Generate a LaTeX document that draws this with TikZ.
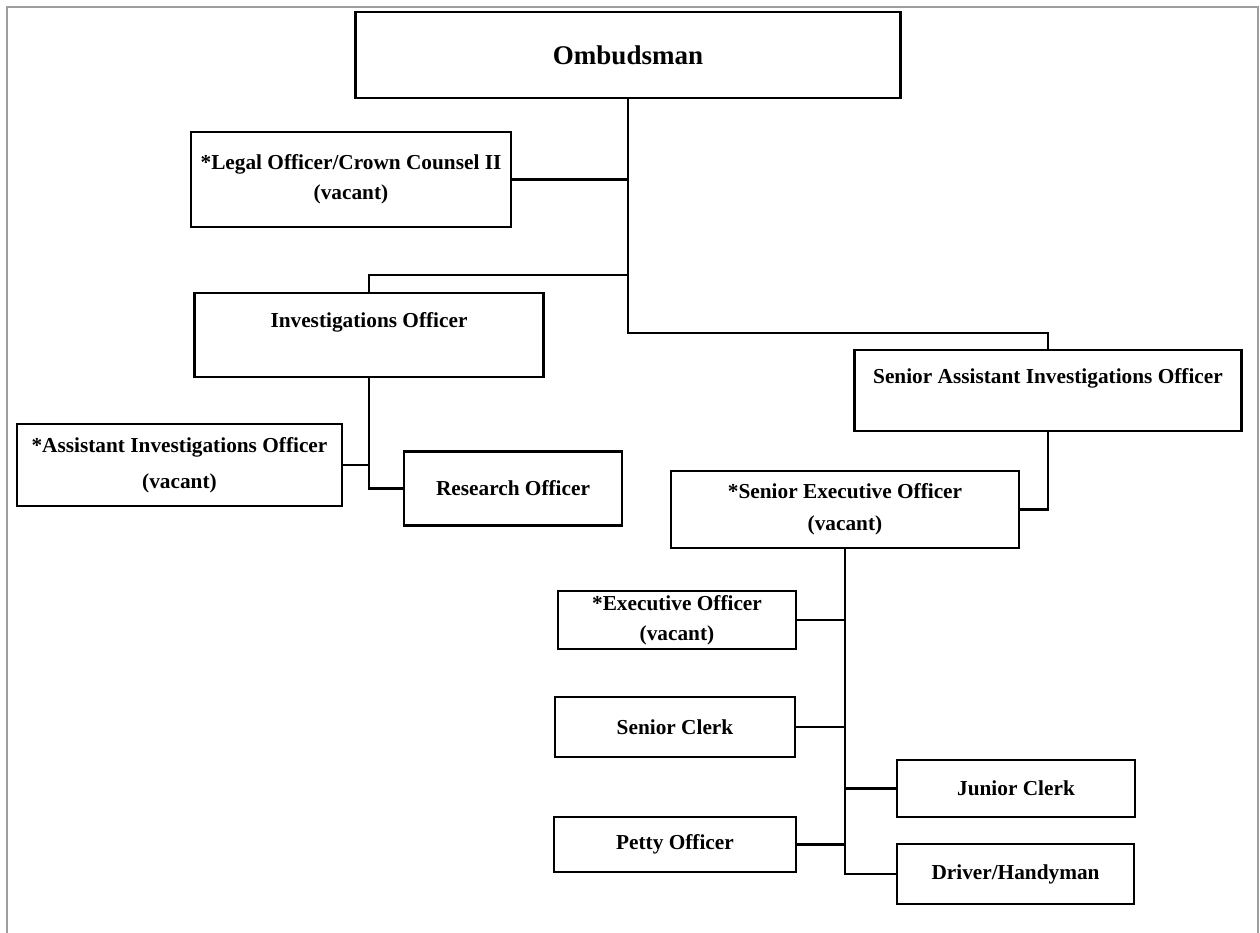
\documentclass[tikz,border=0pt]{standalone}
\usepackage{fontspec}
\setmainfont{Liberation Serif}
\begin{document}
\begin{tikzpicture}[x=1pt,y=-1pt,
  post/.style={draw=black, line width=2.8pt, rectangle, inner sep=0pt,
    align=center, fill=white,
    font=\bfseries\fontsize{21.3}{30}\selectfont},
  link/.style={draw=black, line width=2.8pt},
  frameline/.style={draw=black!38, line width=2pt}]

% page area and outer frame
\useasboundingbox (0,0) rectangle (1260,932);
\draw[frameline] (7,940) -- (7,7) -- (1258,7) -- (1258,940);

% posts
\node[post, minimum width=545pt, minimum height=86pt,
  font=\bfseries\fontsize{27}{32}\selectfont] (omb) at (628,55) {Ombudsman};
\node[post, minimum width=320pt, minimum height=95pt] (legal) at (351,179.5)
  {*Legal Officer/Crown Counsel II\\(vacant)};
\node[post, minimum width=349pt, minimum height=84pt] (inv) at (369,335)
  {Investigations Officer\\\mbox{}};
\node[post, minimum width=387pt, minimum height=81pt] (saio) at (1048,390.5)
  {Senior Assistant Investigations Officer\\\mbox{}};
\node[post, minimum width=325pt, minimum height=82pt,
  font=\bfseries\fontsize{21.3}{36}\selectfont] (asst) at (179.5,465)
  {*Assistant Investigations Officer\\(vacant)};
\node[post, minimum width=218pt, minimum height=74pt] (res) at (513,488.5)
  {Research Officer};
\node[post, minimum width=348pt, minimum height=77pt,
  font=\bfseries\fontsize{21.3}{32}\selectfont] (seo) at (845,509.5)
  {*Senior Executive Officer\\(vacant)};
\node[post, minimum width=238pt, minimum height=58pt] (exec) at (677,620)
  {*Executive Officer\\(vacant)};
\node[post, minimum width=240pt, minimum height=60pt] (sclerk) at (675,727)
  {Senior Clerk};
\node[post, minimum width=238pt, minimum height=57pt] (jclerk) at (1016,788.5)
  {Junior Clerk};
\node[post, minimum width=242pt, minimum height=55pt] (petty) at (675,844.5)
  {Petty Officer};
\node[post, minimum width=237pt, minimum height=60pt] (driver) at (1015.5,874)
  {Driver/Handyman};

% junctions on the Ombudsman's line
\coordinate (jinv) at (628,275);
\coordinate (jsaio) at (628,333);

% reporting lines
\draw[link] (omb.south) -- (jsaio) -| (saio.north);
\draw[link] (legal.east) -- (legal.east -| omb.south);
\draw[link] (jinv) -| (inv.north);

\draw[link] (inv.south) |- (res.west);
\draw[link] (asst.east) -- (asst.east -| inv.south);

\draw[link] (saio.south) |- (seo.east);

\draw[link] (seo.south) |- (driver.west);
\draw[link] (exec.east) -- (exec.east -| seo.south);
\draw[link] (sclerk.east) -- (sclerk.east -| seo.south);
\draw[link] (petty.east) -- (petty.east -| seo.south);
\draw[link] (jclerk.west) -- (jclerk.west -| seo.south);
\end{tikzpicture}
\end{document}
